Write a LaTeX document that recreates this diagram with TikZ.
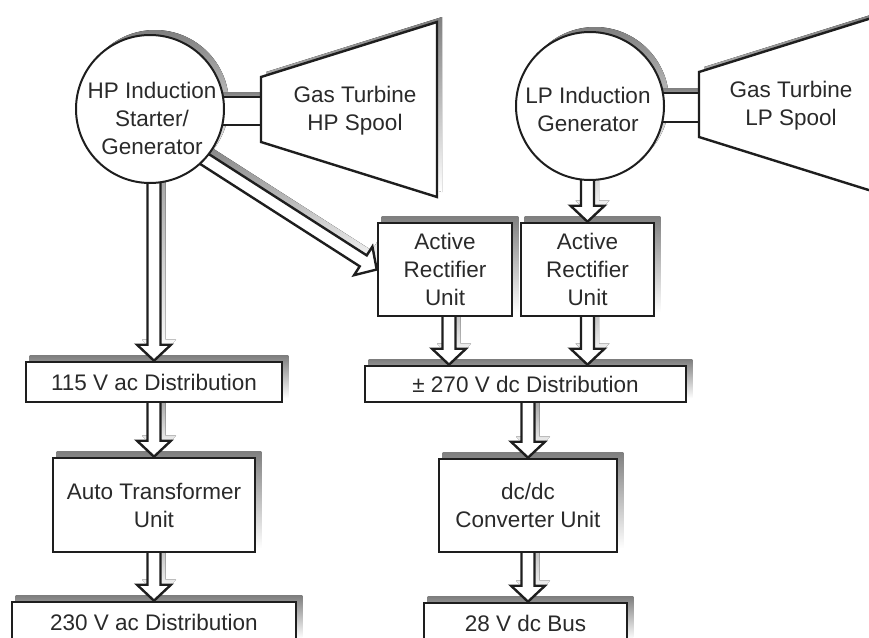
\documentclass[tikz,border=0pt]{standalone}
\usepackage{fontspec}
\setmainfont{Liberation Sans}
\usetikzlibrary{calc}

\pgfdeclarelayer{shadowlayer}
\pgfdeclarelayer{toplayer}
\pgfsetlayers{shadowlayer,main,toplayer}

\definecolor{ink}{HTML}{1E1E1E}
\definecolor{shade}{HTML}{C8C8C8}
\definecolor{txt}{HTML}{2A2A2A}

\newcommand\labelfont{\fontsize{22.5pt}{28pt}\selectfont}

% block-arrow geometry
\newcommand\shafthalf{6.5pt}
\newcommand\headhalf{17pt}
\newcommand\headlen{16pt}

\newcommand\flowpoly{(fa-s1) -- (fa-b1) -- (fa-h1) -- (fa-t) -- (fa-h2) -- (fa-b2) -- (fa-s2) -- cycle}

% hollow block arrow with a drop shadow: #1 = start, #2 = tip
\newcommand\flowarrow[2]{%
  \path (#1) coordinate (fa-s) (#2) coordinate (fa-t);
  \path ($(fa-t)!\headlen!(fa-s)$) coordinate (fa-b);
  \path ($(fa-s)!\shafthalf!90:(fa-t)$) coordinate (fa-s1)
        ($(fa-s)!\shafthalf!-90:(fa-t)$) coordinate (fa-s2)
        ($(fa-b)!\shafthalf!90:(fa-t)$) coordinate (fa-b1)
        ($(fa-b)!\shafthalf!-90:(fa-t)$) coordinate (fa-b2)
        ($(fa-b)!\headhalf!90:(fa-t)$) coordinate (fa-h1)
        ($(fa-b)!\headhalf!-90:(fa-t)$) coordinate (fa-h2);
  \begin{pgfonlayer}{shadowlayer}
    \begin{scope}[transform canvas={xshift=5pt,yshift=5pt}]
      \fill[shade] \flowpoly;
    \end{scope}
  \end{pgfonlayer}
  \filldraw[flowbody] \flowpoly;
}

\tikzset{
  unit/.style={draw=ink, line width=2.6pt, fill=white, inner sep=0pt,
    align=center, text=txt, font=\labelfont},
  machine/.style={circle, draw=ink, line width=2pt, fill=white,
    minimum size=148pt, inner sep=0pt},
  caption/.style={align=center, text=txt, font=\labelfont, inner sep=0pt},
  flowbody/.style={draw=ink, line width=2.4pt, fill=white, line join=miter},
  turbine/.style={draw=ink, line width=2.4pt, fill=white, line join=miter},
  coupling/.style={draw=ink, line width=2.6pt, fill=white},
}

\begin{document}
\begin{tikzpicture}[x=1pt,y=-1pt]
\useasboundingbox (0,0) rectangle (869,637);

% ---------- machines, turbines and converter units ----------
\begin{pgfonlayer}{toplayer}
  \node[machine] (hp) at (150,109) {};
  \node[caption] (hpname) at (152,118.5) {HP Induction\\Starter/\\Generator};
  \node[machine] (lp) at (590,106) {};
  \node[caption] (lpname) at (588,109) {LP Induction\\Generator};

  \filldraw[turbine] (261,77) coordinate (hpt-nw) -- (437,22) coordinate (hpt-ne)
    -- (437,197) coordinate (hpt-se) -- (261,142) coordinate (hpt-sw) -- cycle;
  \node[caption] (hpturb) at (355,111) {Gas Turbine\\HP Spool};

  \filldraw[turbine] (699,72) coordinate (lpt-nw) -- (875,17) coordinate (lpt-ne)
    -- (875,192) coordinate (lpt-se) -- (699,137) coordinate (lpt-sw) -- cycle;
  \node[caption] (lpturb) at (791,106) {Gas Turbine\\LP Spool};

  \node[unit, minimum width=134pt, minimum height=93pt] (aru1) at (445,269.5)
    {Active\\Rectifier\\Unit};
  \node[unit, minimum width=133pt, minimum height=93pt] (aru2) at (587.5,269.5)
    {Active\\Rectifier\\Unit};
  \node[unit, minimum width=256pt, minimum height=40pt] (acdist) at (154,382)
    {115 V ac Distribution};
  \node[unit, minimum width=321pt, minimum height=36pt] (dcdist) at (525.5,384)
    {± 270 V dc Distribution};
  \node[unit, minimum width=202pt, minimum height=94pt] (atu) at (154,505)
    {Auto Transformer\\Unit};
  \node[unit, minimum width=178pt, minimum height=93pt] (dcdc) at (528,505.5)
    {dc/dc\\Converter Unit};
  \node[unit, minimum width=284pt, minimum height=40pt] (ac230) at (154,622)
    {230 V ac Distribution};
  \node[unit, minimum width=203pt, minimum height=40pt] (v28) at (525.5,623)
    {28 V dc Bus};
\end{pgfonlayer}

% ---------- shaft couplings between machines and spools ----------
\coordinate (hpc1) at (261,97);
\coordinate (hpc2) at (261,125);
\coordinate (lpc1) at (699,93);
\coordinate (lpc2) at (699,122);
\filldraw[coupling] (hpc1 -| hp.center) rectangle (hpc2);
\filldraw[coupling] (lpc1 -| lp.center) rectangle (lpc2);

% ---------- drop shadows ----------
\begin{pgfonlayer}{shadowlayer}
  \begin{scope}[transform canvas={xshift=5pt,yshift=5pt}]
    \fill[shade] (hp.center) circle[radius=74pt];
    \fill[shade] (lp.center) circle[radius=74pt];
    \fill[shade] (hpt-nw) -- (hpt-ne) -- (hpt-se) -- (hpt-sw) -- cycle;
    \fill[shade] (lpt-nw) -- (lpt-ne) -- (lpt-se) -- (lpt-sw) -- cycle;
    \fill[shade] (hpc1 -| hp.center) rectangle (hpc2);
    \fill[shade] (lpc1 -| lp.center) rectangle (lpc2);
    \foreach \b in {aru1,aru2,acdist,dcdist,atu,dcdc,ac230,v28}
      \fill[shade] (\b.south west) rectangle (\b.north east);
  \end{scope}
\end{pgfonlayer}

% ---------- power flow arrows ----------
\coordinate (hpdiag) at (192,151);
\coordinate (aru1out) at ([xshift=4pt]aru1.center);

\flowarrow{hp.center -| acdist.north}{acdist.north}
\flowarrow{atu.north |- acdist.center}{atu.north}
\flowarrow{atu.center}{atu.center |- ac230.north}
\flowarrow{hpdiag}{aru1.west}
\flowarrow{lp.center -| aru2.north}{aru2.north}
\flowarrow{aru1out}{aru1out |- dcdist.north}
\flowarrow{aru2.center}{aru2.center |- dcdist.north}
\flowarrow{dcdc.north |- dcdist.center}{dcdc.north}
\flowarrow{dcdc.center}{dcdc.center |- v28.north}

\end{tikzpicture}
\end{document}
